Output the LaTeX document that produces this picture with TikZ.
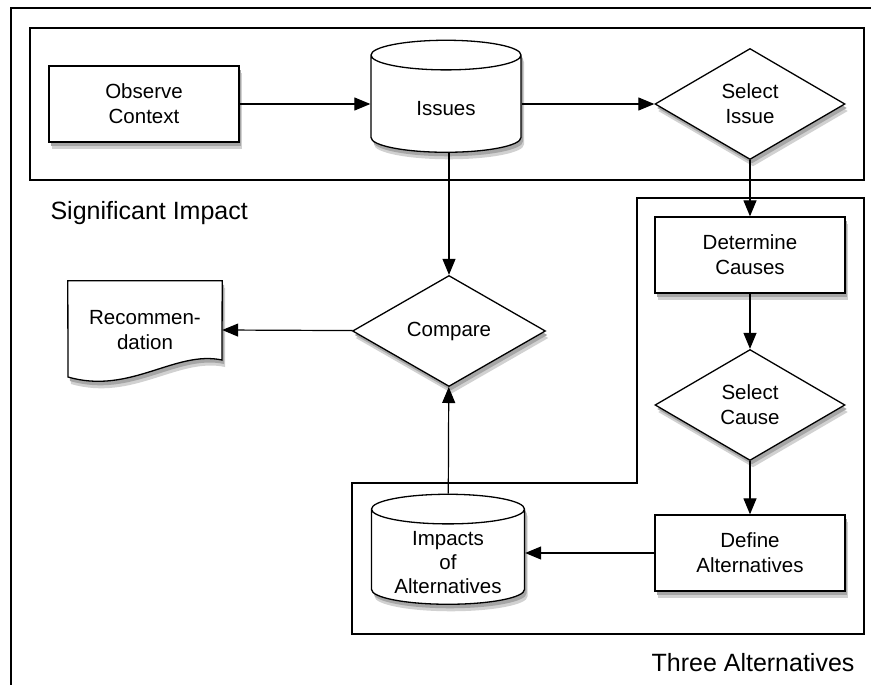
\documentclass[tikz,border=0pt]{standalone}
\usepackage{fontspec}
\setmainfont{Liberation Sans}
\usetikzlibrary{shapes.geometric,arrows.meta}

\tikzset{
  boxShadow/.style={preaction={fill=black!18, transform canvas={xshift=3pt,yshift=-7pt}},
    preaction={fill=black!35, transform canvas={xshift=2pt,yshift=-4pt}}},
  stepFont/.style={font=\fontsize{20.5}{25}\selectfont},
  processBox/.style={rectangle, draw, line width=1.3pt, fill=white, boxShadow,
    minimum width=190pt, minimum height=76pt, align=center, stepFont},
  decisionBox/.style={diamond, draw, line width=1.3pt, fill=white, boxShadow, aspect=1.7, inner sep=0pt,
    minimum width=190pt, minimum height=111pt, align=center, stepFont},
  storeBox/.style={cylinder, shape border rotate=90, aspect=0.5, draw, line width=1.3pt, fill=white, boxShadow,
    inner sep=0pt, minimum width=150pt, minimum height=112pt, align=center, stepFont},
  flowArrow/.style={line width=1.2pt, -{Triangle[length=16pt,width=13pt]}},
  areaLabel/.style={font=\fontsize{25}{28}\selectfont}
}

\begin{document}
\begin{tikzpicture}[x=1pt,y=-1pt]
\useasboundingbox (0,0) rectangle (871,685);

% outer frame, cut at right and bottom
\draw[line width=1.6pt] (871,8) -- (11,8) -- (11,685);

% groups
\draw[line width=1.3pt] (30,28) rectangle (864,180);
\draw[line width=1.3pt] (637,198) -- (864,198) -- (864,634) -- (352,634) -- (352,483) -- (637,483) -- cycle;
\node[areaLabel, anchor=west] (sigLabel) at (47,213) {Significant Impact};
\node[areaLabel, anchor=east] (altLabel) at (858,663) {Three Alternatives};

% steps
\node[processBox] (observe) at (144,104) {Observe\\Context};
\node[storeBox] (issues) at (446,104) {\phantom{Issues}};
\node[stepFont] (issuesText) at ([yshift=-5pt]issues.center) {Issues};
\node[decisionBox] (selIssue) at (750,104) {Select\\Issue};
\node[processBox] (determine) at (750,255) {Determine\\Causes};
\node[decisionBox] (selCause) at (750,405) {Select\\Cause};
\node[processBox] (define) at (750,553) {Define\\Alternatives};
\node[storeBox, minimum width=153pt, minimum height=110pt] (impacts) at (448,557) {\phantom{Issues}};
\node[align=center, font=\fontsize{20.5}{24}\selectfont] (impactsText) at ([yshift=-6pt]impacts.center) {Impacts\\of\\Alternatives};
\node[decisionBox, minimum width=193pt] (compare) at (449,331) {Compare};

% document
\node[minimum width=154pt, minimum height=98pt] (recom) at (145,330) {};
\draw[line width=1.3pt, fill=white, boxShadow] (recom.north west) -- (recom.north east) -- (222,360)
  .. controls (175,350) and (130,395) .. (68,377) -- cycle;
\node[align=center, stepFont] (recomText) at (recom) {Recommen-\\dation};

% connectors
\draw[flowArrow] (observe) -- (observe -| issues.west);
\draw[flowArrow] (issues.east |- selIssue) -- (selIssue);
\draw[flowArrow] (selIssue) -- (determine);
\draw[flowArrow] (determine) -- (selCause);
\draw[flowArrow] (selCause) -- (define);
\draw[flowArrow] (define) -- (define -| impacts.east);
\draw[flowArrow] (impacts) -- (compare);
\draw[flowArrow] (issues.south -| compare) -- (compare);
\draw[flowArrow] (compare) -- (recom.east);
\end{tikzpicture}
\end{document}
